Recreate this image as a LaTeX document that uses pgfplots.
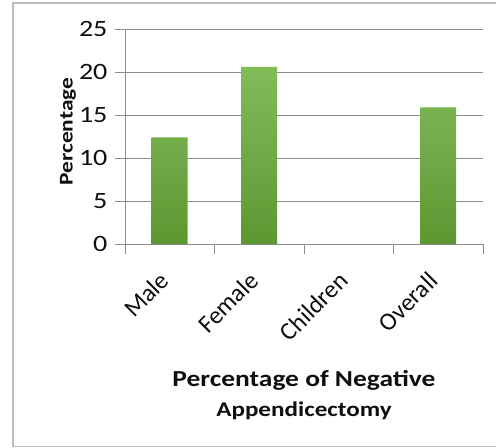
\documentclass[border=0pt]{standalone}
\usepackage{pgfplots}
\pgfplotsset{compat=1.18}
\usepackage{fontspec}
\setmainfont{Carlito}[FakeStretch=1.2]
\newfontfamily\xtickfont{Carlito}
\definecolor{gridgray}{RGB}{140,140,140}
\definecolor{frame}{RGB}{190,190,190}
\definecolor{bartop}{RGB}{128,188,88}
\definecolor{barbot}{RGB}{92,152,50}
\definecolor{txt}{RGB}{15,15,15}
\begin{document}
\begin{tikzpicture}
\useasboundingbox (-125bp,-204bp) rectangle (371bp,244bp);
\begin{axis}[
  at={(0,0)}, anchor=south west,
  scale only axis,
  width=358bp, height=215bp,
  xmin=0.5, xmax=4.5,
  ymin=0, ymax=25,
  ytick={0,5,10,15,20,25},
  xtick={1,2,3,4},
  xticklabels={Male,Female,Children,Overall},
  minor xtick={0.5,1.5,2.5,3.5,4.5},
  axis x line*=bottom, axis y line*=left,
  axis line style={gridgray, line width=1pt},
  tick align=outside,
  major tick length=10bp,
  minor tick length=10bp,
  major x tick style={draw=none},
  minor x tick style={gridgray, line width=1pt},
  major y tick style={gridgray, line width=1pt},
  ymajorgrids,
  major grid style={gridgray, line width=1pt},
  /pgf/number format/assume math mode=true,
  yticklabel style={font=\fontsize{23.5}{26}\selectfont, text=txt, anchor=east, xshift=-4bp},
  xticklabel style={font=\xtickfont\fontsize{25}{28}\selectfont, text=txt, rotate=45, anchor=north east, xshift=-16bp, yshift=0bp},
  ylabel={Percentage},
  ylabel style={font=\bfseries\fontsize{19.5}{22}\selectfont, text=txt, at={(axis description cs:-0.146,0.523)}, anchor=base, rotate=0},
  xlabel={Percentage of Negative},
  xlabel style={font=\bfseries\fontsize{23}{26}\selectfont, text=txt, at={(axis description cs:0.5,-0.6637)}, anchor=base},
  clip=false,
]
\addplot[ybar, bar width=36bp, draw=none, top color=bartop, bottom color=barbot]
  coordinates {(1,12.4) (2,20.6) (4,15.9)};
\node[anchor=base, font=\bfseries\fontsize{21}{24}\selectfont, text=txt] at (axis description cs:0.5,-0.8033) {Appendicectomy};
\end{axis}
\draw[frame, line width=1.5pt] (371bp,241bp) -- (-112bp,241bp) -- (-112bp,-202.5bp) -- (371bp,-202.5bp);
\end{tikzpicture}
\end{document}
